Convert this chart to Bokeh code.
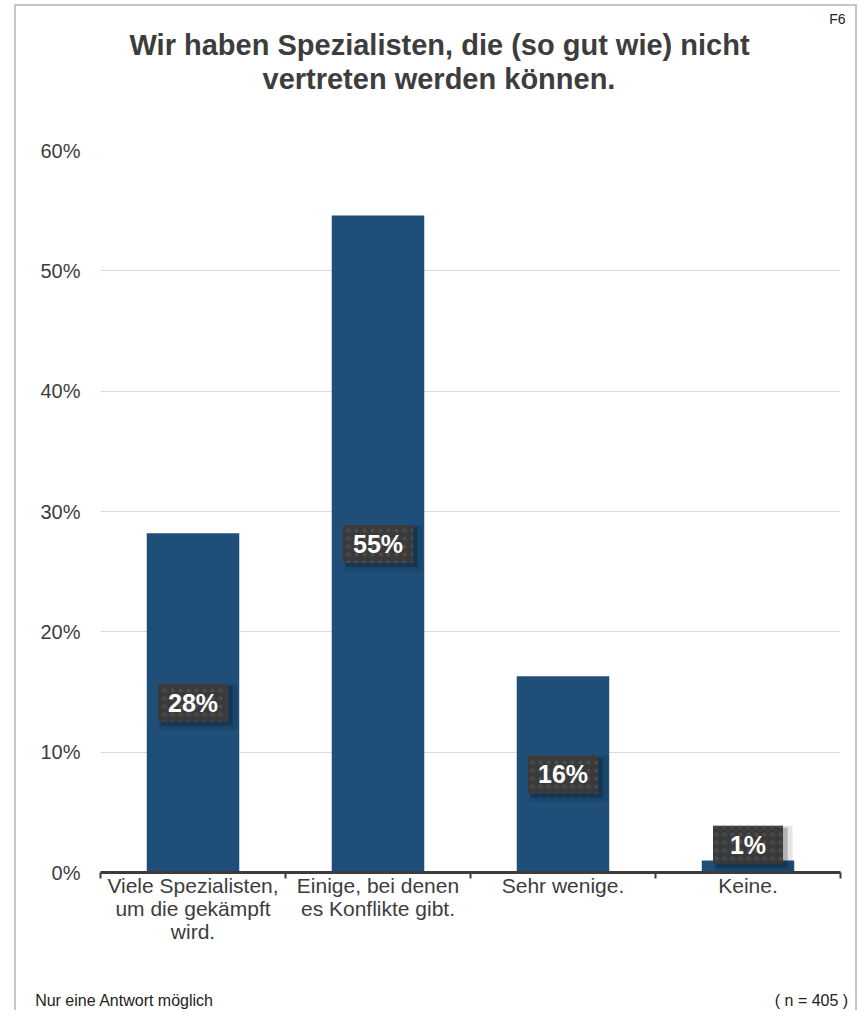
from bokeh.plotting import figure
from bokeh.models import Range1d, FixedTicker, Title, LinearAxis
from bokeh.embed import file_html
from bokeh.resources import INLINE
from bokeh.core.properties import value

# ---- data ----
categories = [
    "Viele Spezialisten,\num die gekämpft\nwird.",
    "Einige, bei denen\nes Konflikte gibt.",
    "Sehr wenige.",
    "Keine.",
]
values = [28.2, 54.6, 16.3, 1.0]
value_labels = ["28%", "55%", "16%", "1%"]
y_ticks = [0, 10, 20, 30, 40, 50, 60]
y_tick_labels = ["0%", "10%", "20%", "30%", "40%", "50%", "60%"]
title_lines = ["Wir haben Spezialisten, die (so gut wie) nicht", "vertreten werden können."]
corner_tag = "F6"
footer_texts = ["Nur eine Antwort möglich", "( n = 405 )"]

FONT = "Liberation Sans"
TXT = "#3d3d3d"
BAR = "#1f4e79"

W, H = 843, 1006
FL, FR, FT, FB = 84, 19, 144, 140

p = figure(width=W, height=H, output_backend="svg", toolbar_location=None,
           x_range=Range1d(0, len(categories)), y_range=Range1d(0, y_ticks[-1]),
           min_border_left=FL, min_border_right=FR, min_border_top=FT, min_border_bottom=FB)
p.outline_line_color = None
p.background_fill_color = "white"
p.border_fill_color = "white"
p.styles = {"margin-left": "14px", "margin-top": "4px",
            "border-left": "2px solid #c6c6c6", "border-top": "2px solid #c6c6c6",
            "border-right": "2px solid #c6c6c6"}

xs = [i + 0.5 for i in range(len(categories))]

# bars
p.vbar(x=xs, top=values, width=0.5, bottom=0, fill_color=BAR, line_color=None)

# value label boxes
label_y = [max(v / 2, 2.3) for v in values]
p.rect(x=[x + 0.03 for x in xs], y=[y - 0.35 for y in label_y], width=78, height=46,
       width_units="screen", height_units="screen", fill_color="black", fill_alpha=0.10, line_color=None)
p.rect(x=[x + 0.02 for x in xs], y=[y - 0.25 for y in label_y], width=72, height=40,
       width_units="screen", height_units="screen", fill_color="black", fill_alpha=0.22, line_color=None)
p.rect(x=xs, y=label_y, width=70, height=38, width_units="screen", height_units="screen",
       fill_color="#3a3a3a", line_color=None, hatch_pattern="dot", hatch_color="#4b4b4b",
       hatch_scale=8, hatch_weight=1.2)
p.text(x=xs, y=label_y, text=value_labels, text_align="center", text_baseline="middle",
       text_color="white", text_font_size="25px", text_font_style="bold", text_font=value(FONT))

# grid + axes
p.xgrid.visible = False
p.ygrid.ticker = FixedTicker(ticks=y_ticks)
p.ygrid.grid_line_color = "#d9d9d9"
p.ygrid.grid_line_width = 1

ya = p.yaxis[0]
ya.ticker = FixedTicker(ticks=y_ticks)
ya.major_label_overrides = {t: l for t, l in zip(y_ticks, y_tick_labels)}
ya.axis_line_color = None
ya.major_tick_line_color = None
ya.major_tick_out = 0
ya.major_tick_in = 0
ya.minor_tick_line_color = None
ya.major_label_standoff = 20
ya.major_label_text_font = FONT
ya.major_label_text_font_size = "20px"
ya.major_label_text_color = TXT

xa = p.xaxis[0]
xa.ticker = FixedTicker(ticks=xs, minor_ticks=list(range(len(categories) + 1)))
xa.major_label_overrides = {x: c for x, c in zip(xs, categories)}
xa.axis_line_color = "#3c3c3c"
xa.axis_line_width = 3
xa.major_tick_line_color = None
xa.major_tick_out = 0
xa.major_tick_in = 0
xa.minor_tick_line_color = "#3c3c3c"
xa.minor_tick_line_width = 2
xa.minor_tick_out = 6
xa.minor_tick_in = 0
xa.major_label_standoff = -5
xa.major_label_text_font = FONT
xa.major_label_text_font_size = "21px"
xa.major_label_text_line_height = 1.0
xa.major_label_text_color = TXT

# footer notes as an extra, line-less axis in page pixels
p.extra_x_ranges = {"px": Range1d(100, 840)}
fa = LinearAxis(x_range_name="px", ticker=FixedTicker(ticks=[124, 811]),
                major_label_overrides={124: footer_texts[0], 811: footer_texts[1]},
                axis_line_color=None, major_tick_line_color=None, minor_tick_line_color=None,
                major_tick_out=0, major_tick_in=0, major_label_standoff=46,
                major_label_text_font=FONT, major_label_text_font_size="16px",
                major_label_text_color="#222222")
p.add_layout(fa, "below")

# titles (added nearest-to-frame first); a blank title acts as spacer
p.add_layout(Title(text=" ", standoff=53, text_font_size="1px"), "above")
p.add_layout(Title(text=title_lines[1], align="left", offset=162, standoff=0,
                   text_font=FONT, text_font_size="29px", text_font_style="bold",
                   text_color=TXT), "above")
p.add_layout(Title(text=title_lines[0], align="left", offset=29, standoff=0,
                   text_font=FONT, text_font_size="29px", text_font_style="bold",
                   text_color=TXT), "above")
p.add_layout(Title(text=corner_tag, align="right", offset=-5, standoff=0,
                   text_font=FONT, text_font_size="14px", text_font_style="normal",
                   text_color="#222222"), "above")

open("out.html", "w").write(file_html(p, INLINE))
